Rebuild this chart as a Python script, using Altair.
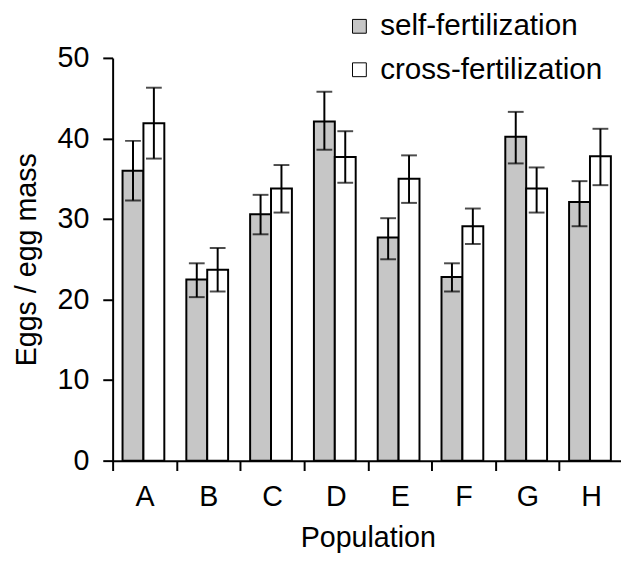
import altair as alt
import pandas as pd

populations = ["A", "B", "C", "D", "E", "F", "G", "H"]
series_names = ["self-fertilization", "cross-fertilization"]
series_colors = ["#c6c6c6", "#ffffff"]

self_mean = [36.0, 22.5, 30.6, 42.1, 27.7, 22.8, 40.2, 32.1]
self_low = [32.3, 20.3, 28.1, 38.6, 25.0, 21.0, 36.9, 29.1]
self_high = [39.7, 24.5, 33.0, 45.8, 30.1, 24.5, 43.3, 34.7]

cross_mean = [41.9, 23.7, 33.8, 37.7, 35.0, 29.1, 33.8, 37.8]
cross_low = [37.5, 21.0, 30.8, 34.5, 32.0, 26.9, 30.8, 34.2]
cross_high = [46.3, 26.4, 36.7, 40.9, 37.9, 31.3, 36.4, 41.2]

y_ticks = [0, 10, 20, 30, 40, 50]

rows = []
for name, m, lo, hi in [
    (series_names[0], self_mean, self_low, self_high),
    (series_names[1], cross_mean, cross_low, cross_high),
]:
    for p, a, b, c in zip(populations, m, lo, hi):
        rows.append({"population": p, "series": name, "mean": a, "low": b, "high": c})
df = pd.DataFrame(rows)

FONT = "Liberation Sans"

x_enc = alt.X(
    "population:N",
    sort=populations,
    scale=alt.Scale(range=[0, 517], paddingInner=0, paddingOuter=0),
    axis=alt.Axis(
        title="Population",
        labelAngle=0,
        tickBand="extent",
        tickSize=10,
        tickWidth=2,
        tickColor="black",
        domainWidth=2,
        domainColor="black",
        labelPadding=12,
        titlePadding=13,
        labelFontSize=29,
        titleFontSize=29,
        labelFont=FONT,
        titleFont=FONT,
        labelColor="black",
        titleColor="black",
        titleFontWeight="normal",
        grid=False,
    ),
)
xoff_enc = alt.XOffset(
    "series:N",
    sort=series_names,
    scale=alt.Scale(paddingInner=0, paddingOuter=0.527, align=0.45),
)

y_scale = alt.Scale(domain=[0, 50], nice=False)
y_axis = alt.Axis(
    title="Eggs / egg mass",
    values=y_ticks,
    tickSize=10,
    tickWidth=2,
    tickColor="black",
    domainWidth=2,
    domainColor="black",
    labelPadding=14,
    titlePadding=16,
    labelFontSize=29,
    titleFontSize=29,
    labelFont=FONT,
    titleFont=FONT,
    labelColor="black",
    titleColor="black",
    titleFontWeight="normal",
    grid=False,
)

base = alt.Chart(df)

bars = base.mark_bar(stroke="black", strokeWidth=2).encode(
    x=x_enc,
    xOffset=xoff_enc,
    y=alt.Y("mean:Q", scale=y_scale, axis=y_axis),
    fill=alt.Fill(
        "series:N",
        sort=series_names,
        scale=alt.Scale(domain=series_names, range=series_colors),
        legend=alt.Legend(
            orient="none",
            legendX=235,
            legendY=-47,
            title=None,
            symbolType="square",
            symbolSize=196,
            symbolStrokeColor="black",
            symbolStrokeWidth=1,
            symbolOpacity=1,
            labelFontSize=30,
            labelFont=FONT,
            labelColor="black",
            labelOffset=6,
            rowPadding=14,
            padding=0,
            labelLimit=400,
        ),
    ),
)

rules = base.mark_rule(color="black", strokeWidth=2).encode(
    x=x_enc,
    xOffset=xoff_enc,
    y=alt.Y("low:Q", scale=y_scale, axis=y_axis),
    y2="high:Q",
)

caps_low = base.mark_tick(color="black", thickness=2, size=16).encode(
    x=x_enc,
    xOffset=xoff_enc,
    y=alt.Y("low:Q", scale=y_scale, axis=y_axis),
)
caps_high = base.mark_tick(color="black", thickness=2, size=16).encode(
    x=x_enc,
    xOffset=xoff_enc,
    y=alt.Y("high:Q", scale=y_scale, axis=y_axis),
)

chart = (
    alt.layer(bars, rules, caps_low, caps_high)
    .properties(
        width=515,
        height=408,
        autosize=alt.AutoSizeParams(type="none"),
        padding={"left": 106, "top": 47, "right": 0, "bottom": 90},
        background="white",
    )
    .configure_view(stroke=None)
)

chart.save("out.html", embed_options={"renderer": "svg", "actions": False})
